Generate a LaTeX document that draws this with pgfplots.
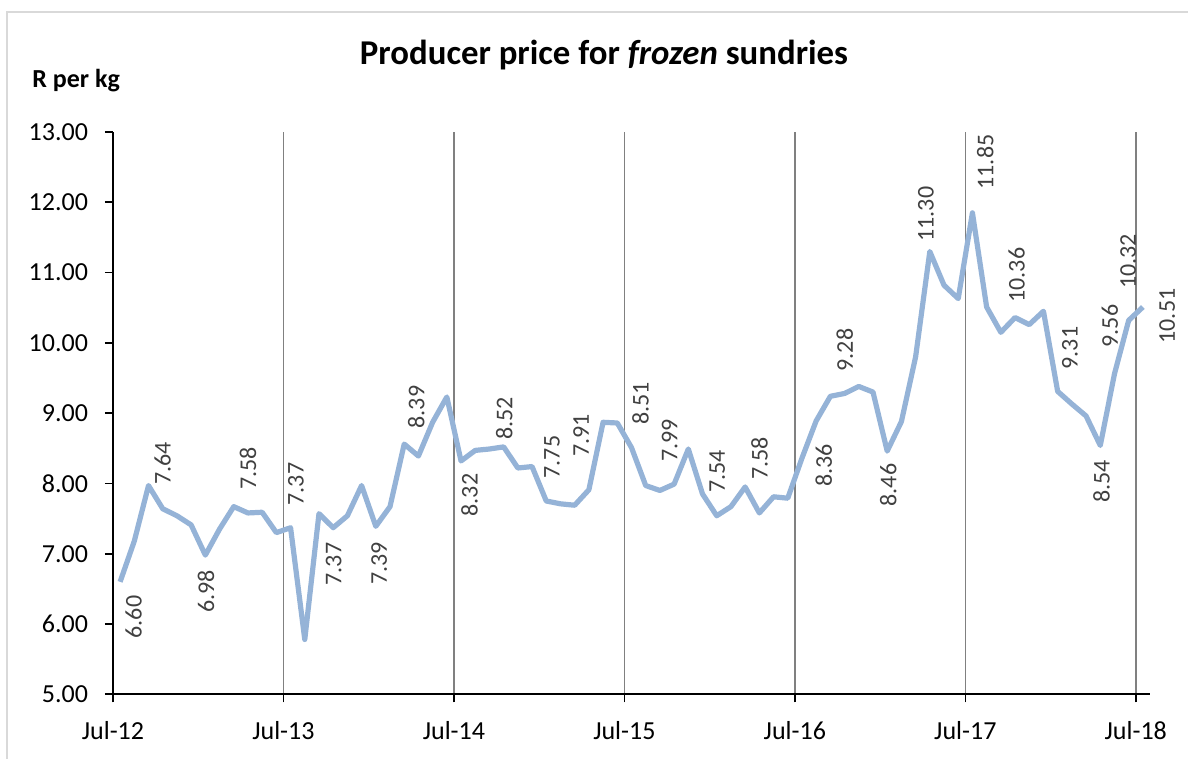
\documentclass[border=0pt]{standalone}
\usepackage{fontspec}
\setmainfont{Carlito}
\usepackage{pgfplots}
\pgfplotsset{compat=1.18}
\definecolor{linecol}{HTML}{95B3D7}
\definecolor{lblcol}{HTML}{404040}
\definecolor{gridcol}{HTML}{808080}
\definecolor{framecol}{HTML}{D9D9D9}
\pgfplotstableread{
x y
0.5 6.60
1.5 7.18
2.5 7.97
3.5 7.64
4.5 7.54
5.5 7.41
6.5 6.98
7.5 7.35
8.5 7.67
9.5 7.58
10.5 7.59
11.5 7.30
12.5 7.37
13.5 5.78
14.5 7.57
15.5 7.37
16.5 7.54
17.5 7.97
18.5 7.39
19.5 7.67
20.5 8.56
21.5 8.39
22.5 8.87
23.5 9.23
24.5 8.32
25.5 8.47
26.5 8.49
27.5 8.52
28.5 8.22
29.5 8.24
30.5 7.75
31.5 7.71
32.5 7.69
33.5 7.91
34.5 8.87
35.5 8.86
36.5 8.51
37.5 7.97
38.5 7.90
39.5 7.99
40.5 8.49
41.5 7.85
42.5 7.54
43.5 7.67
44.5 7.95
45.5 7.58
46.5 7.81
47.5 7.79
48.5 8.36
49.5 8.89
50.5 9.24
51.5 9.28
52.5 9.38
53.5 9.30
54.5 8.46
55.5 8.88
56.5 9.80
57.5 11.30
58.5 10.82
59.5 10.63
60.5 11.85
61.5 10.51
62.5 10.15
63.5 10.36
64.5 10.26
65.5 10.45
66.5 9.31
67.5 9.13
68.5 8.96
69.5 8.54
70.5 9.56
71.5 10.32
72.5 10.51
}\pricedata
\begin{document}
\begin{tikzpicture}[x=0.5pt,y=0.5pt]
\useasboundingbox (0,0) rectangle (1188,759);
\draw[framecol, line width=0.8pt] (7,0) -- (7,747) -- (1188,747);
\node[font=\fontsize{17.4}{20}\selectfont\bfseries, anchor=base, inner sep=0pt] at (604,694) {Producer price for \textit{frozen} sundries};
\node[font=\fontsize{13}{15}\selectfont\bfseries, anchor=base west, inner sep=0pt] at (32,671) {R per kg};
\begin{axis}[
  at={(56.5pt,32.35pt)}, anchor=south west,
  scale only axis, width=518.5pt, height=281.15pt,
  xmin=0, xmax=73, ymin=5, ymax=13,
  axis lines*=left,
  axis line style={black, line width=0.8pt},
  clip=false,
  xtick={0,12,24,36,48,60,72},
  xticklabels={Jul-12,Jul-13,Jul-14,Jul-15,Jul-16,Jul-17,Jul-18},
  ytick={5,6,7,8,9,10,11,12,13},
  tick align=outside, major tick length=4pt,
  tick style={black, line width=0.8pt},
  xmajorgrids, grid style={gridcol, line width=0.8pt},
  ticklabel style={font=\fontsize{13}{15}\selectfont},
  /pgf/number format/assume math mode=true,
  yticklabel style={xshift=-5pt, /pgf/number format/.cd, fixed, fixed zerofill, precision=2},
  xticklabel style={yshift=-6pt},
]
\addplot[linecol, line width=2.6pt, line join=round] table[x=x,y=y] {\pricedata};
\begin{scope}[every node/.style={rotate=90, font=\fontsize{12}{14}\selectfont, text=lblcol, inner sep=0pt}]
\node at (axis cs:1.457,6.100) {6.60};
\node at (axis cs:3.498,8.284) {7.64};
\node at (axis cs:6.546,6.463) {6.98};
\node at (axis cs:9.502,8.212) {7.58};
\node at (axis cs:12.880,7.992) {7.37};
\node at (axis cs:15.534,6.854) {7.37};
\node at (axis cs:18.743,6.861) {7.39};
\node at (axis cs:21.347,9.087) {8.39};
\node at (axis cs:25.091,7.835) {8.32};
\node at (axis cs:27.541,8.924) {8.52};
\node at (axis cs:30.898,8.376) {7.75};
\node at (axis cs:32.960,8.682) {7.91};
\node at (axis cs:37.127,9.137) {8.51};
\node at (axis cs:39.182,8.611) {7.99};
\node at (axis cs:42.532,8.170) {7.54};
\node at (axis cs:45.516,8.355) {7.58};
\node at (axis cs:50.042,8.255) {8.36};
\node at (axis cs:51.520,9.898) {9.28};
\node at (axis cs:54.568,7.978) {8.46};
\node at (axis cs:57.221,11.833) {11.30};
\node at (axis cs:61.395,12.573) {11.85};
\node at (axis cs:63.604,10.965) {10.36};
\node at (axis cs:67.357,9.927) {9.31};
\node at (axis cs:69.587,8.025) {8.54};
\node at (axis cs:70.172,10.240) {9.56};
\node at (axis cs:71.460,11.157) {10.32};
\node at (axis cs:74.205,10.382) {10.51};
\end{scope}
\end{axis}
\end{tikzpicture}
\end{document}
